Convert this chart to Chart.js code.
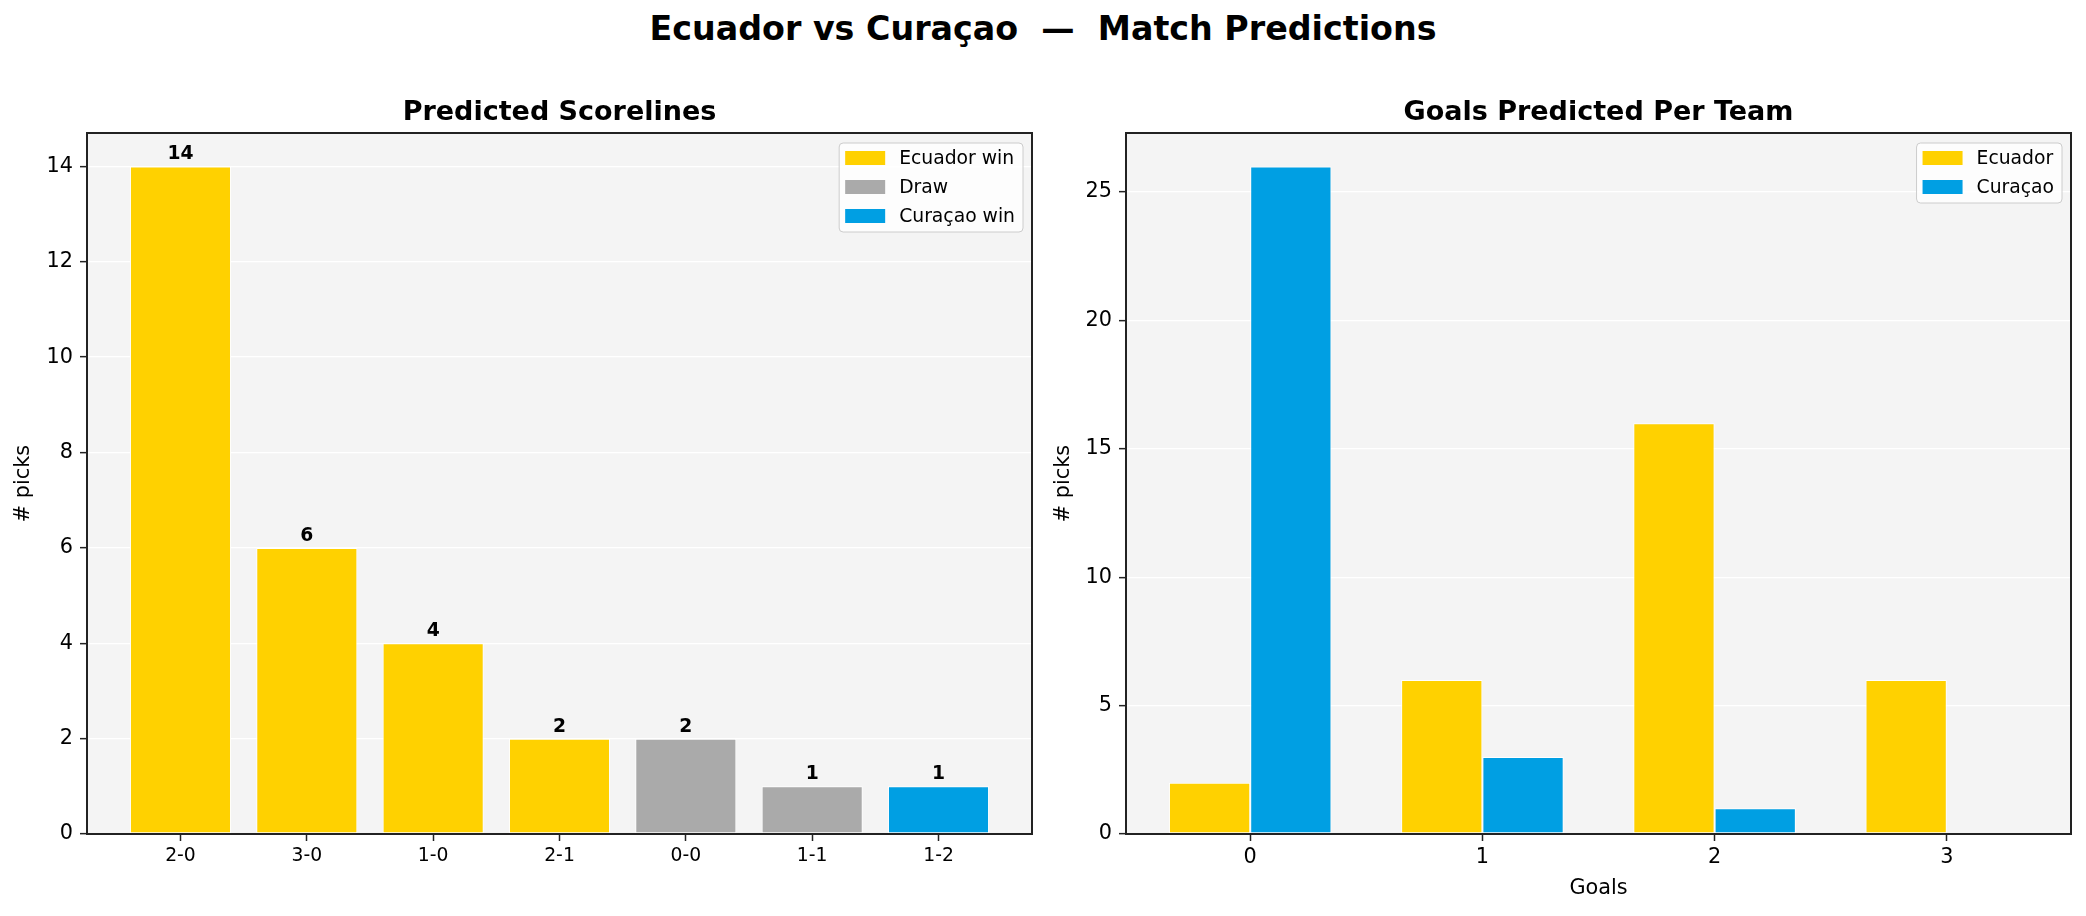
<!DOCTYPE html>
<html><head><meta charset="utf-8">
<script src="https://cdn.jsdelivr.net/npm/chart.js@4.4.0/dist/chart.umd.min.js"></script>
<style>
html,body{margin:0;padding:0;background:#fff;width:2086px;height:916px;overflow:hidden;}
#sup{position:absolute;left:0;width:2086px;top:8px;text-align:center;font:bold 33.3px "DejaVu Sans";white-space:pre;color:#000;line-height:42px}
canvas{position:absolute;top:0}
#c1{left:0} #c2{left:1043px}
</style></head><body>
<div id="sup">Ecuador vs Curaçao  —  Match Predictions</div>
<canvas id="c1" width="1043" height="916"></canvas>
<canvas id="c2" width="1043" height="916"></canvas>
<script>
// ---- data ----
const scorelines = ['2-0','3-0','1-0','2-1','0-0','1-1','1-2'];
const scorelinePicks = [14,6,4,2,2,1,1];
const scorelineOutcome = [0,0,0,0,1,1,2];
const outcomeNames = ['Ecuador win','Draw','Curaçao win'];
const outcomeColors = ['#FFD100','#AAAAAA','#009FE3'];
const goals = [0,1,2,3];
const ecuadorGoals = [2,6,16,6];
const curacaoGoals = [26,3,1,0];
const teamNames = ['Ecuador','Curaçao'];
const teamColors = ['#FFD100','#009FE3'];
const leftYTicks = [0,2,4,6,8,10,12,14];
const rightYTicks = [0,5,10,15,20,25];

const FONT = '"DejaVu Sans"';
Chart.defaults.font.family = FONT;
Chart.defaults.color = '#000';

const bgFrame = {
  id:'bgFrame',
  beforeDraw(chart){
    const a = chart.chartArea, ctx = chart.ctx;
    ctx.save(); ctx.fillStyle = '#F4F4F4';
    ctx.fillRect(a.left, a.top, a.right-a.left, a.bottom-a.top);
    ctx.restore();
  },
  afterDatasetsDraw(chart){
    const a = chart.chartArea, ctx = chart.ctx;
    ctx.save(); ctx.strokeStyle = '#222'; ctx.lineWidth = 2;
    ctx.strokeRect(a.left, a.top, a.right-a.left, a.bottom-a.top);
    ctx.restore();
  }
};

function legendPlugin(names, colors){
  return {
    id:'mplLegend',
    afterDatasetsDraw(chart){
      const ctx = chart.ctx, a = chart.chartArea;
      ctx.save();
      ctx.font = '18.75px ' + FONT;
      const tw = Math.max(...names.map(n => ctx.measureText(n).width));
      const w = 60 + tw + 8, h = 15 + 29*(names.length-1) + 16;
      const right = a.right - 9, top = a.top + 10, left = right - w;
      ctx.beginPath();
      ctx.roundRect(left, top, w, h, 4);
      ctx.fillStyle = 'rgba(255,255,255,0.8)'; ctx.fill();
      ctx.strokeStyle = '#cccccc'; ctx.lineWidth = 1; ctx.stroke();
      names.forEach((n,i) => {
        const cy = top + 15 + 29*i;
        ctx.fillStyle = colors[i];
        ctx.fillRect(left + 6, cy - 7, 40, 14);
        ctx.fillStyle = '#000'; ctx.textBaseline = 'middle'; ctx.textAlign = 'left';
        ctx.fillText(n, left + 60, cy + 1);
      });
      ctx.restore();
    }
  };
}

const valueLabels = {
  id:'valueLabels',
  afterDatasetsDraw(chart){
    const ctx = chart.ctx;
    ctx.save();
    ctx.font = 'bold 18.75px ' + FONT; ctx.fillStyle = '#000';
    ctx.textAlign = 'center'; ctx.textBaseline = 'alphabetic';
    chart.getDatasetMeta(0).data.forEach((bar, i) => {
      ctx.fillText(String(scorelinePicks[i]), bar.x, bar.y - 7);
    });
    ctx.restore();
  }
};

function yScale(max, ticks, width, titlePad){
  return {
    type:'linear', min:0, max:max,
    afterBuildTicks(s){ s.ticks = ticks.map(v => ({value:v})); },
    afterFit(s){ s.width = width; },
    ticks:{ font:{size:20.8}, color:'#000', padding:7 },
    grid:{ color:'#ffffff', lineWidth:1.3, tickColor:'#222', tickWidth:1.5, tickLength:7 },
    border:{ display:false },
    title:{ display:true, text:'# picks', font:{size:20.8}, color:'#000', padding:{top:titlePad, bottom:0} }
  };
}

// ---- left chart ----
new Chart(document.getElementById('c1'), {
  type:'bar',
  data:{ datasets:[{
    label:'Predicted Scorelines',
    data: scorelines.map((s,i) => ({x:i, y:scorelinePicks[i]})),
    backgroundColor: scorelineOutcome.map(o => outcomeColors[o]),
    borderColor:'#ffffff', borderWidth:1, borderSkipped:false,
    categoryPercentage:0.8, barPercentage:1.0
  }]},
  options:{
    responsive:false, animation:false, devicePixelRatio:1,
    layout:{ padding:{left:0, right:11, top:0, bottom:0} },
    plugins:{
      legend:{display:false}, tooltip:{enabled:false},
      title:{ display:true, fullSize:false, text:'Predicted Scorelines', color:'#000',
        font:{size:27, weight:'bold'}, padding:{top:96.8, bottom:3.8} }
    },
    scales:{
      x:{ type:'linear', min:-0.74, max:6.74, offset:false,
        afterBuildTicks(s){ s.ticks = scorelines.map((_,i) => ({value:i})); },
        afterFit(s){ s.height = 82; },
        ticks:{ callback:(v) => scorelines[v], font:{size:18.75}, color:'#000', padding:4, maxRotation:0 },
        grid:{ drawOnChartArea:false, offset:false, tickColor:'#222', tickWidth:1.5, tickLength:7 },
        border:{ display:false }
      },
      y: yScale(14.7, leftYTicks, 87, 11.5)
    }
  },
  plugins:[bgFrame, valueLabels, legendPlugin(outcomeNames, outcomeColors)]
});

// ---- right chart ----
new Chart(document.getElementById('c2'), {
  type:'bar',
  data:{ datasets:[
    { label:teamNames[0], data: goals.map((g,i) => ({x:g, y:ecuadorGoals[i]})),
      backgroundColor:teamColors[0], borderColor:'#ffffff', borderWidth:1, borderSkipped:false,
      categoryPercentage:0.7, barPercentage:1.0 },
    { label:teamNames[1], data: goals.map((g,i) => ({x:g, y:curacaoGoals[i]})),
      backgroundColor:teamColors[1], borderColor:'#ffffff', borderWidth:1, borderSkipped:false,
      categoryPercentage:0.7, barPercentage:1.0 }
  ]},
  options:{
    responsive:false, animation:false, devicePixelRatio:1,
    layout:{ padding:{left:0, right:15, top:0, bottom:0} },
    plugins:{
      legend:{display:false}, tooltip:{enabled:false},
      title:{ display:true, fullSize:false, text:'Goals Predicted Per Team', color:'#000',
        font:{size:27, weight:'bold'}, padding:{top:96.8, bottom:3.8} }
    },
    scales:{
      x:{ type:'linear', min:-0.535, max:3.535, offset:false,
        afterBuildTicks(s){ s.ticks = goals.map(g => ({value:g})); },
        afterFit(s){ s.height = 82; },
        ticks:{ callback:(v) => String(v), font:{size:20.8}, color:'#000', padding:4, maxRotation:0 },
        grid:{ drawOnChartArea:false, offset:false, tickColor:'#222', tickWidth:1.5, tickLength:7 },
        border:{ display:false },
        title:{ display:true, text:'Goals', font:{size:20.8}, color:'#000', padding:{top:0, bottom:14.5} }
      },
      y: yScale(27.3, rightYTicks, 83, 8.5)
    }
  },
  plugins:[bgFrame, legendPlugin(teamNames, teamColors)]
});
</script>
</body></html>
